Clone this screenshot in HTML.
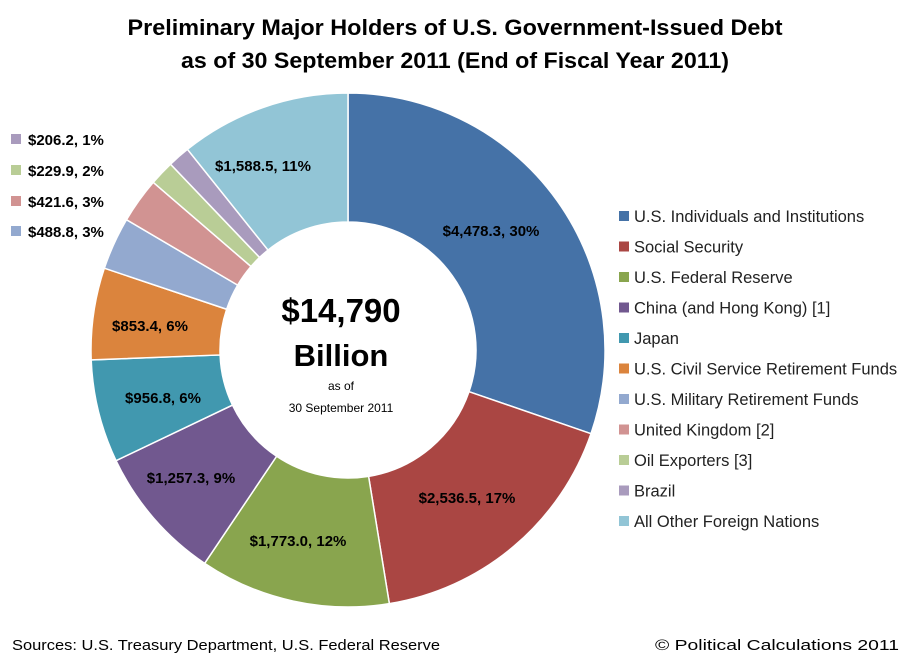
<!DOCTYPE html>
<html><head><meta charset="utf-8"><style>
body{margin:0;background:#fff;}
svg{font-family:"Liberation Sans",sans-serif;}
</style></head><body>
<svg id="s" width="911" height="661" viewBox="0 0 911 661" xmlns="http://www.w3.org/2000/svg">
<rect width="911" height="661" fill="#fff"/>
<g id="pie"></g>
<text x="455" y="35" text-anchor="middle" font-size="22" font-weight="bold" fill="#000" textLength="655" lengthAdjust="spacingAndGlyphs">Preliminary Major Holders of U.S. Government-Issued Debt</text>
<text x="455" y="68" text-anchor="middle" font-size="22" font-weight="bold" fill="#000" textLength="548" lengthAdjust="spacingAndGlyphs">as of 30 September 2011 (End of Fiscal Year 2011)</text>
<g class="sc" font-size="15" font-weight="bold" fill="#000" text-anchor="middle">
<text x="491" y="236">$4,478.3, 30%</text>
<text x="467" y="503">$2,536.5, 17%</text>
<text x="298" y="546">$1,773.0, 12%</text>
<text x="191" y="483">$1,257.3, 9%</text>
<text x="163" y="403">$956.8, 6%</text>
<text x="150" y="331">$853.4, 6%</text>
<text x="263" y="171">$1,588.5, 11%</text>
</g>
<g class="sc" font-size="15" font-weight="bold" fill="#000">
<rect x="11" y="134" width="10" height="10" fill="#A99BBD"/><text x="28" y="145">$206.2, 1%</text>
<rect x="11" y="165" width="10" height="10" fill="#B9CD96"/><text x="28" y="176">$229.9, 2%</text>
<rect x="11" y="196" width="10" height="10" fill="#D19392"/><text x="28" y="207">$421.6, 3%</text>
<rect x="11" y="226" width="10" height="10" fill="#93A9CF"/><text x="28" y="237">$488.8, 3%</text>
</g>
<g text-anchor="middle" fill="#000">
<text x="341" y="322" font-size="33" font-weight="bold">$14,790</text>
<text x="341" y="366" font-size="31" font-weight="bold">Billion</text>
<text x="341" y="390" font-size="12">as of</text>
<text x="341" y="412" font-size="12">30 September 2011</text>
</g>
<g id="leg" font-size="16.5" fill="#222"></g>
<text x="12" y="650" font-size="14.5" fill="#000" textLength="428" lengthAdjust="spacingAndGlyphs">Sources: U.S. Treasury Department, U.S. Federal Reserve</text>
<text x="899" y="650" font-size="14.5" fill="#000" text-anchor="end" textLength="244" lengthAdjust="spacingAndGlyphs">© Political Calculations 2011</text>
</svg>
<script>
var v=[4478.3,2536.5,1773.0,1257.3,956.8,853.4,488.8,421.6,229.9,206.2,1588.5];
var c=["#4572A7","#AA4643","#89A54E","#71588F","#4198AF","#DB843D","#93A9CF","#D19392","#B9CD96","#A99BBD","#92C5D6"];
var n=["U.S. Individuals and Institutions","Social Security","U.S. Federal Reserve","China (and Hong Kong) [1]","Japan","U.S. Civil Service Retirement Funds","U.S. Military Retirement Funds","United Kingdom [2]","Oil Exporters [3]","Brazil","All Other Foreign Nations"];
var t=v.reduce(function(a,b){return a+b},0),cx=348,cy=350,R=257,r=128,a=0,ns="http://www.w3.org/2000/svg",g=document.getElementById("pie");
function p(rad,an){return [cx+rad*Math.sin(an),cy-rad*Math.cos(an)];}
for(var i=0;i<v.length;i++){var b=a+v[i]/t*2*Math.PI,l=(b-a)>Math.PI?1:0;
var p1=p(R,a),p2=p(R,b),p3=p(r,b),p4=p(r,a);
var e=document.createElementNS(ns,"path");
e.setAttribute("d","M"+p1+"A"+R+","+R+" 0 "+l+" 1 "+p2+"L"+p3+"A"+r+","+r+" 0 "+l+" 0 "+p4+"Z");
e.setAttribute("fill",c[i]);e.setAttribute("stroke","#fff");e.setAttribute("stroke-width","1.5");g.appendChild(e);a=b;}
var L=document.getElementById("leg");
for(var i=0;i<11;i++){var y=221+i*30.5;var q=document.createElementNS(ns,"rect");
q.setAttribute("x",619);q.setAttribute("y",y-10);q.setAttribute("width",10);q.setAttribute("height",10);q.setAttribute("fill",c[i]);L.appendChild(q);
var tx=document.createElementNS(ns,"text");tx.setAttribute("x",634);tx.setAttribute("y",y+1);tx.textContent=n[i];L.appendChild(tx);}
</script>
</body></html>
